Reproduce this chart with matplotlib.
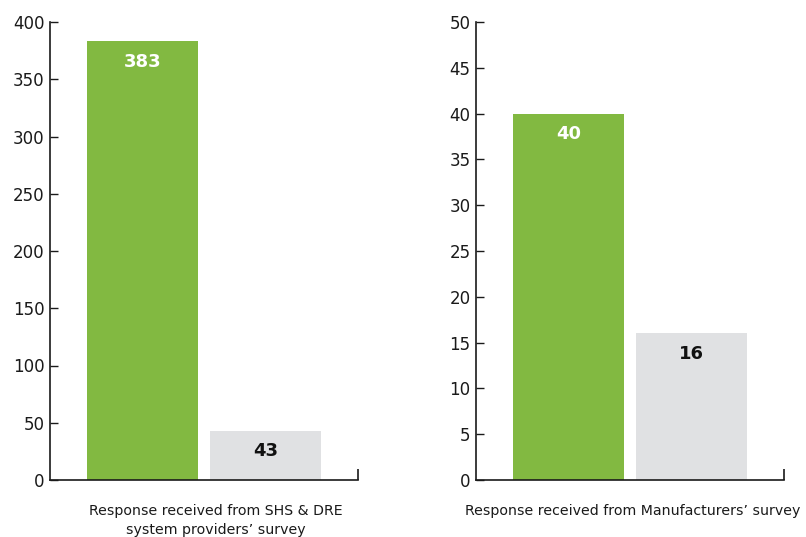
import matplotlib
matplotlib.use("Agg")
import matplotlib.pyplot as plt

# Data
categories = ["Yes", "No"]
shs_values = [383, 43]
mfr_values = [40, 16]
shs_label = "Response received from SHS & DRE\nsystem providers\u2019 survey"
mfr_label = "Response received from Manufacturers\u2019 survey"
shs_ticks = [0, 50, 100, 150, 200, 250, 300, 350, 400]
mfr_ticks = [0, 5, 10, 15, 20, 25, 30, 35, 40, 45, 50]

GREEN = "#82b941"
GRAY = "#e0e1e3"
AX_COLOR = "#1a1a1a"

plt.rcParams['font.family'] = ['DejaVu Sans']

fig = plt.figure(figsize=(8.06, 5.37), dpi=100)
W, H = 806, 537

def make_axes(x0, x1, y_top, y_bot):
    return fig.add_axes([x0 / W, (H - y_bot) / H, (x1 - x0) / W, (y_bot - y_top) / H])

ax1 = make_axes(50, 358, 22, 480)
ax2 = make_axes(476, 784, 22, 480)

def draw(ax, values, ticks, label, label_offset_frac, label_x):
    x = list(range(len(values)))
    colors = [GREEN, GRAY]
    ax.bar(x, values, width=0.9, color=colors, zorder=2)
    ymax = ticks[-1]
    ax.set_ylim(0, ymax)
    ax.set_xlim(-0.752, 1.752)
    ax.set_yticks(ticks)
    ax.set_xticks([])
    for s in ["top", "right"]:
        ax.spines[s].set_visible(False)
    for s in ["left", "bottom"]:
        ax.spines[s].set_linewidth(1.2)
        ax.spines[s].set_color(AX_COLOR)
    ax.tick_params(axis="y", direction="in", length=6, width=1.0, color=AX_COLOR,
                   labelsize=12, pad=4, labelcolor="#1a1a1a")
    # end tick at right of x axis
    ax.plot([1, 1], [0, 0.025], transform=ax.transAxes, color=AX_COLOR,
            lw=1.2, clip_on=False, solid_capstyle="butt")
    off = label_offset_frac * ymax
    txt_colors = ["white", "#111111"]
    for xi, v, c in zip(x, values, txt_colors):
        ax.text(xi, v - off, str(v), ha="center", va="center", fontsize=13,
                fontweight="bold", color=c, zorder=3)
    ax.text(label_x, -0.053, label, transform=ax.transAxes, ha="center", va="top",
            fontsize=10.2, color="#1a1a1a", linespacing=1.4)

draw(ax1, shs_values, shs_ticks, shs_label, 0.044, 0.539)
draw(ax2, mfr_values, mfr_ticks, mfr_label, 0.044, 0.51)

fig.savefig("out.png", dpi=100, facecolor="white")
